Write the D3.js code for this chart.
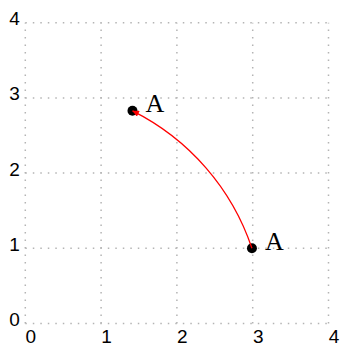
<!DOCTYPE html>
<html>
<head>
<meta charset="utf-8">
<script src="https://cdn.jsdelivr.net/npm/d3@7"></script>
<style>
  body { margin: 0; background: #fff; }
  svg { display: block; }
</style>
</head>
<body>
<div id="chart"></div>
<script>
let margin = { top: 22.7, left: 25.3, right: 11.5, bottom: 22.5 }

let width = 340 - margin.left - margin.right
let height = 346 - margin.top - margin.bottom

// tick values on both axes
let ticks = [0, 1, 2, 3, 4]

// the two points, both labelled A
let pointX = [2.99, 1.414]
let pointY = [1, 2.828]
let pointLabels = ['A', 'A']

// arc radius in data units (centre at the origin)
let arcRadius = 3.162

let svg = d3
  .select('#chart')
  .append('svg')
  .attr('width', 340)
  .attr('height', 346)

let g = svg
  .append('g')
  .attr('transform', 'translate(' + margin.left + ',' + margin.top + ')')

let xScale = d3.scaleLinear().domain([0, 4]).range([0, width])
let yScale = d3.scaleLinear().domain([0, 4]).range([height, 0])

// dotted grid
g.selectAll('.vgrid')
  .data(ticks)
  .enter()
  .append('line')
  .attr('class', 'vgrid')
  .attr('x1', d => xScale(d))
  .attr('x2', d => xScale(d))
  .attr('y1', yScale(0))
  .attr('y2', yScale(4))
  .attr('stroke', '#b4b4b4')
  .attr('stroke-width', 1.5)
  .attr('stroke-dasharray', '1.5,6')

g.selectAll('.hgrid')
  .data(ticks)
  .enter()
  .append('line')
  .attr('class', 'hgrid')
  .attr('y1', d => yScale(d))
  .attr('y2', d => yScale(d))
  .attr('x1', xScale(0))
  .attr('x2', xScale(4))
  .attr('stroke', '#b4b4b4')
  .attr('stroke-width', 1.5)
  .attr('stroke-dasharray', '1.5,6')

// tick labels
g.selectAll('.ylab')
  .data(ticks)
  .enter()
  .append('text')
  .attr('class', 'ylab')
  .attr('x', -5.5)
  .attr('y', d => yScale(d) + 2.5)
  .attr('text-anchor', 'end')
  .attr('font-family', 'Liberation Sans, Arial, sans-serif')
  .attr('font-size', 19)
  .text(d => d)

g.selectAll('.xlab')
  .data(ticks)
  .enter()
  .append('text')
  .attr('class', 'xlab')
  .attr('x', d => xScale(d) + 0.2)
  .attr('y', height + 19.5)
  .attr('text-anchor', 'start')
  .attr('font-family', 'Liberation Sans, Arial, sans-serif')
  .attr('font-size', 19)
  .text(d => d)

// points
g.selectAll('.pt')
  .data(pointX)
  .enter()
  .append('circle')
  .attr('class', 'pt')
  .attr('cx', d => xScale(d))
  .attr('cy', (d, i) => yScale(pointY[i]))
  .attr('r', 5)
  .attr('fill', 'black')

// red arc with arrow
svg
  .append('defs')
  .append('marker')
  .attr('id', 'arrow')
  .attr('viewBox', '0 0 10 10')
  .attr('refX', 10)
  .attr('refY', 5)
  .attr('markerWidth', 10)
  .attr('markerHeight', 6.5)
  .attr('markerUnits', 'userSpaceOnUse')
  .attr('orient', 'auto')
  .append('path')
  .attr('d', 'M0,0 L10,5 L0,10 z')
  .attr('fill', 'red')

let rx = xScale(arcRadius) - xScale(0)
let ry = yScale(0) - yScale(arcRadius)

g.append('path')
  .attr(
    'd',
    'M' + xScale(pointX[0]) + ',' + yScale(pointY[0]) +
      ' A' + rx + ',' + ry + ' 0 0 0 ' +
      xScale(pointX[1]) + ',' + yScale(pointY[1])
  )
  .attr('fill', 'none')
  .attr('stroke', 'red')
  .attr('stroke-width', 1.3)
  .attr('marker-end', 'url(#arrow)')

// labels
g.selectAll('.plab')
  .data(pointLabels)
  .enter()
  .append('text')
  .attr('class', 'plab')
  .attr('x', (d, i) => xScale(pointX[i]) + 13)
  .attr('y', (d, i) => yScale(pointY[i]) + 1.3)
  .attr('font-family', 'Liberation Serif, Times New Roman, serif')
  .attr('font-size', 26)
  .text(d => d)
</script>
</body>
</html>
